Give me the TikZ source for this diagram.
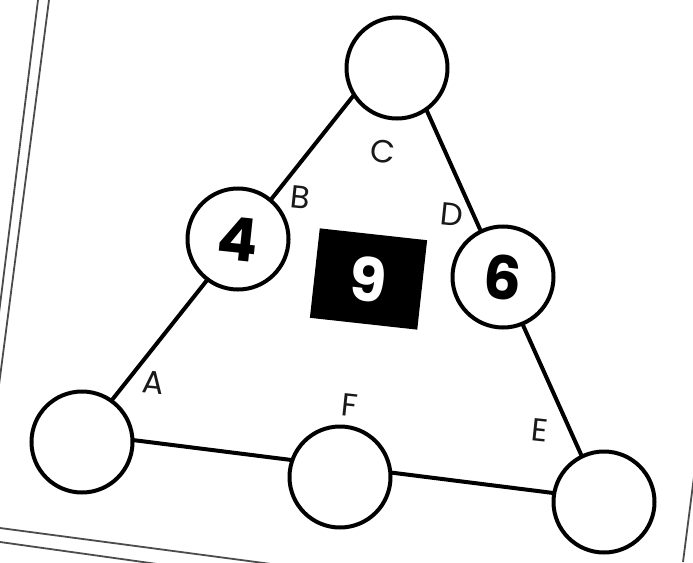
\documentclass[tikz,border=0pt]{standalone}
\usepackage{fontspec}
\setmainfont{Poppins}
\begin{document}
\begin{tikzpicture}[x=1pt,y=-1pt,
  edge/.style={line width=4pt, draw=black, line join=round},
  ring/.style={circle, draw=black, line width=4pt, fill=white, minimum size=101pt, inner sep=0pt},
  lab/.style={font=\fontsize{32}{32}\selectfont, text=black!90, rotate=-6, inner sep=0pt},
  num/.style={font=\bfseries\fontsize{60}{60}\selectfont, rotate=-6},
  border/.style={line width=1.8pt, draw=black!70}]
\useasboundingbox (0,0) rectangle (693,562);
\clip (0,0) rectangle (693,562);
\fill[white] (0,0) rectangle (693,562);
% page border
\coordinate (L1a) at (38,0);   \coordinate (L1b) at (-32,562);
\coordinate (L2a) at (49,0);   \coordinate (L2b) at (-24,562);
\coordinate (B1a) at (0,528);  \coordinate (B1b) at (693,620);
\coordinate (B2a) at (0,542);  \coordinate (B2b) at (693,639);
\coordinate (R1a) at (700,430); \coordinate (R1b) at (683,562);
\draw[border] (L1a) -- (L1b);
\draw[border] (L2a) -- (L2b);
\draw[border] (B1a) -- (B1b);
\draw[border] (B2a) -- (B2b);
\draw[border] (R1a) -- (R1b);
% triangle
\coordinate (P) at (396,42);
\coordinate (Q) at (85,434);
\coordinate (R) at (601,499);
\draw[edge] (P) -- (Q) -- (R) -- cycle;
% circles
\node[ring] (top) at (397,68) {};
\node[ring,num] (c4) at (238,239) {4};
\node[ring,num] (c6) at (503,277) {6};
\node[ring] (bl) at (82,442) {};
\node[ring] (bm) at (340,477) {};
\node[ring] (br) at (604,502) {};
% centre square
\node[fill=black, minimum width=108pt, minimum height=90pt, inner sep=0pt,
      text=white, num, rotate=-0.3] (sq) at (368.5,279) {9};
% labels
\node[lab] (lA) at (153,383) {A};
\node[lab] (lB) at (300,197) {B};
\node[lab] (lC) at (383,152) {C};
\node[lab] (lD) at (452,215) {D};
\node[lab] (lE) at (540,430) {E};
\node[lab] (lF) at (350,405) {F};
\end{tikzpicture}
\end{document}
